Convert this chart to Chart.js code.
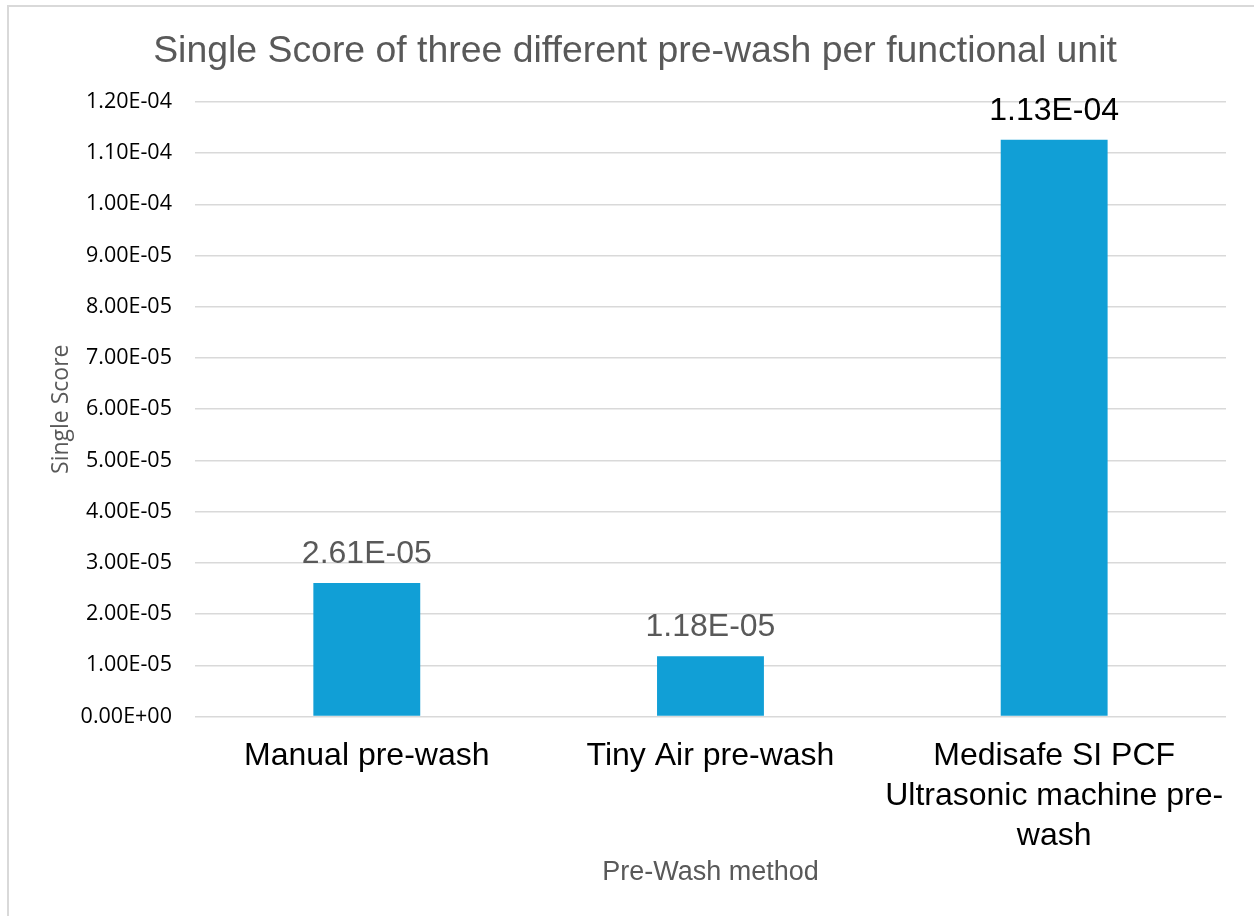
<!DOCTYPE html>
<html>
<head>
<meta charset="utf-8">
<script src="https://cdn.jsdelivr.net/npm/chart.js@4"></script>
<style>
  body { margin: 0; background: #fff; }
  #wrap { position: relative; width: 1254px; height: 916px; overflow: hidden; }
  #frame { position: absolute; left: 7px; top: 5px; width: 1300px; height: 1000px; border-top: 2px solid #d9d9d9; border-left: 2px solid #d9d9d9; }
  canvas { position: absolute; left: 0; top: 0; }
</style>
</head>
<body>
<div id="wrap">
  <div id="frame"></div>
  <canvas id="chart" width="1254" height="916"></canvas>
</div>
<script>
// ข้อมูลของกราฟ
const categories = [
    'Manual pre-wash',
    'Tiny Air pre-wash',
    ['Medisafe SI PCF', 'Ultrasonic machine pre-', 'wash']
];
const scores = [2.61e-5, 1.18e-5, 1.126e-4];
const valueLabels = ['2.61E-05', '1.18E-05', '1.13E-04'];
const labelColors = ['#595959', '#595959', '#000000'];
const yTickLabels = ['0.00E+00', '1.00E-05', '2.00E-05', '3.00E-05', '4.00E-05', '5.00E-05',
    '6.00E-05', '7.00E-05', '8.00E-05', '9.00E-05', '1.00E-04', '1.10E-04', '1.20E-04'];

// ปลั๊กอินวาดค่าบนแท่ง
const barLabels = {
    id: 'barLabels',
    afterDatasetsDraw(chart) {
        const ctx = chart.ctx;
        const meta = chart.getDatasetMeta(0);
        ctx.save();
        ctx.font = '32px "Liberation Sans", Arial, sans-serif';
        ctx.textAlign = 'center';
        ctx.textBaseline = 'middle';
        meta.data.forEach((bar, i) => {
            ctx.fillStyle = labelColors[i];
            ctx.fillText(valueLabels[i], bar.x, bar.y - 29);
        });
        ctx.restore();
    }
};

const ctx = document.getElementById('chart').getContext('2d');
new Chart(ctx, {
    type: 'bar',
    data: {
        labels: categories,
        datasets: [{
            data: scores,
            backgroundColor: '#119fd6',
            borderWidth: 0,
            categoryPercentage: 1,
            barPercentage: 0.311
        }]
    },
    options: {
        responsive: false,
        animation: false,
        layout: { padding: { left: 44, right: 28, top: 19, bottom: 26 } },
        plugins: {
            legend: { display: false },
            tooltip: { enabled: false },
            title: {
                display: true,
                text: 'Single Score of three different pre-wash per functional unit',
                color: '#595959',
                font: { family: '"Liberation Sans", Arial, sans-serif', size: 37.4, weight: 'normal' },
                padding: { top: 10, bottom: 28 }
            }
        },
        scales: {
            x: {
                grid: { display: false },
                border: { display: false },
                ticks: {
                    color: '#000',
                    maxRotation: 0,
                    autoSkip: false,
                    padding: 12,
                    font: { family: '"Liberation Sans", Arial, sans-serif', size: 32, lineHeight: 1.25 }
                },
                title: {
                    display: true,
                    text: 'Pre-Wash method',
                    color: '#595959',
                    font: { family: '"Liberation Sans", Arial, sans-serif', size: 27 },
                    padding: { top: -12, bottom: 1 }
                }
            },
            y: {
                min: 0,
                max: 1.2e-4,
                grid: { color: '#d9d9d9', lineWidth: 1.5, drawTicks: false },
                border: { display: false },
                ticks: {
                    stepSize: 1e-5,
                    color: '#000',
                    padding: 23,
                    font: { family: '"Open Sans", sans-serif', size: 21.5 },
                    callback: (v, i) => yTickLabels[i]
                },
                title: {
                    display: true,
                    text: 'Single Score',
                    color: '#595959',
                    font: { family: '"Open Sans", sans-serif', size: 23 },
                    padding: { top: 4, bottom: -18 }
                }
            }
        }
    },
    plugins: [barLabels]
});
</script>
</body>
</html>
